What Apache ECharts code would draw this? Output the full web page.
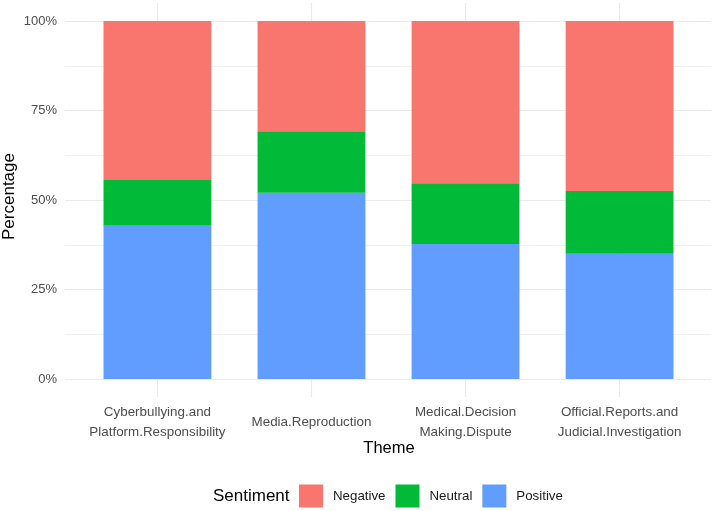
<!DOCTYPE html>
<html>
<head>
<meta charset="utf-8">
<script src="https://cdn.jsdelivr.net/npm/echarts@6/dist/echarts.min.js"></script>
<style>html,body{margin:0;padding:0;background:#fff}#c{width:715px;height:511px}</style>
</head>
<body>
<div id="c"></div>
<script>
const categories = ['Cyberbullying.and\nPlatform.Responsibility', 'Media.Reproduction', 'Medical.Decision\nMaking.Dispute', 'Official.Reports.and\nJudicial.Investigation'];
const positive = [42.8, 52.0, 37.7, 35.0];
const neutral = [12.8, 17.2, 17.0, 17.5];
const negative = [44.4, 30.8, 45.3, 47.5];
const yTicks = [0, 25, 50, 75, 100];

const FONT = 'Liberation Sans, Arial, sans-serif';
const GRID_COLOR = '#EBEBEB';
const chart = echarts.init(document.getElementById('c'), null, {renderer: 'canvas'});

chart.setOption({
  animation: false,
  backgroundColor: '#fff',
  textStyle: {fontFamily: FONT},
  grid: [
    {left: 80.4, right: 18.4, top: 21, bottom: 132},
    {left: 65, right: 4, top: 21, bottom: 132},
    {left: 80.4, right: 18.4, top: 3, bottom: 114}
  ],
  xAxis: [
    {type: 'category', gridIndex: 0, data: categories,
     axisLine: {show: false}, axisTick: {show: false}, splitLine: {show: false},
     axisLabel: {margin: 43, verticalAlign: 'middle', lineHeight: 20, fontSize: 13.4, color: '#4D4D4D', fontFamily: FONT, interval: 0}},
    {type: 'value', gridIndex: 1, show: false},
    {type: 'category', gridIndex: 2, data: categories,
     axisLine: {show: false}, axisTick: {show: false}, axisLabel: {show: false, interval: 0},
     splitLine: {show: true, interval: 0, alignWithLabel: true, lineStyle: {color: GRID_COLOR, width: 1.2}}}
  ],
  yAxis: [
    {type: 'value', gridIndex: 0, min: yTicks[0], max: yTicks[yTicks.length - 1], interval: 25,
     axisLine: {show: false}, axisTick: {show: false}, splitLine: {show: false},
     axisLabel: {formatter: '{value}%', margin: 23.4, fontSize: 13, color: '#4D4D4D', fontFamily: FONT}},
    {type: 'value', gridIndex: 1, min: yTicks[0], max: yTicks[yTicks.length - 1], interval: 25,
     axisLine: {show: false}, axisTick: {show: false}, axisLabel: {show: false},
     splitLine: {show: true, lineStyle: {color: GRID_COLOR, width: 1.2}},
     minorTick: {show: false, splitNumber: 2},
     minorSplitLine: {show: true, lineStyle: {color: GRID_COLOR, width: 0.7}}},
    {type: 'value', gridIndex: 2, show: false, min: 0, max: 1}
  ],
  legend: {
    left: 294, top: 479.5,
    itemWidth: 24, itemHeight: 23, itemGap: 10,
    icon: 'rect',
    data: ['Negative', 'Neutral', 'Positive'],
    textStyle: {fontSize: 13.3, color: '#1a1a1a', fontFamily: FONT, padding: [0, 0, 0, 5]}
  },
  graphic: [
    {type: 'text', x: 389, y: 448, style: {text: 'Theme', font: '16.5px ' + FONT, fill: '#000', align: 'center', verticalAlign: 'middle'}},
    {type: 'text', rotation: Math.PI / 2, x: 9, y: 196.5, style: {text: 'Percentage', font: '17px ' + FONT, fill: '#000', align: 'center', verticalAlign: 'middle'}},
    {type: 'text', x: 213, y: 496, style: {text: 'Sentiment', font: '17px ' + FONT, fill: '#000', align: 'left', verticalAlign: 'middle'}}
  ],
  series: [
    {name: 'Positive', type: 'bar', stack: 'total', xAxisIndex: 0, yAxisIndex: 0, data: positive, barWidth: '70%', itemStyle: {color: '#619CFF'}},
    {name: 'Neutral', type: 'bar', stack: 'total', xAxisIndex: 0, yAxisIndex: 0, data: neutral, barWidth: '70%', itemStyle: {color: '#00BA38'}},
    {name: 'Negative', type: 'bar', stack: 'total', xAxisIndex: 0, yAxisIndex: 0, data: negative, barWidth: '70%', itemStyle: {color: '#F8766D'}}
  ]
});
</script>
</body>
</html>
